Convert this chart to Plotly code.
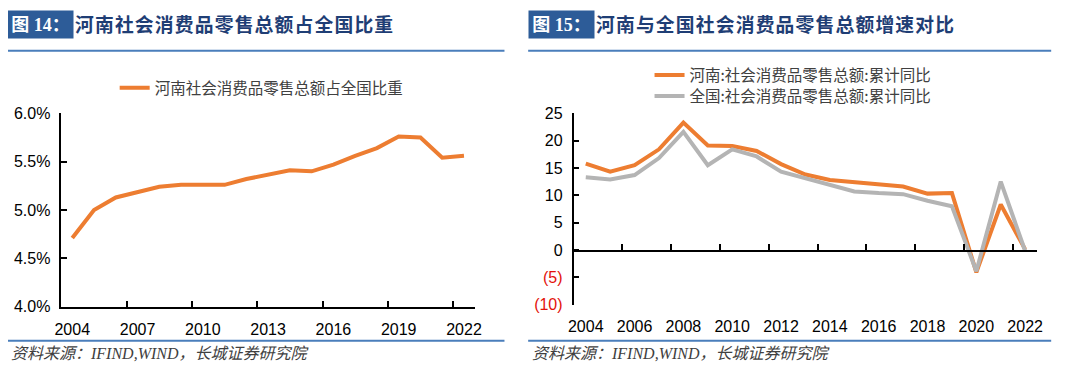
import plotly.graph_objects as go

# ---------------- data ----------------
years = list(range(2004, 2023))
henan_share = [4.71, 5.00, 5.13, 5.18, 5.24, 5.26, 5.265, 5.26, 5.32, 5.36,
               5.41, 5.40, 5.47, 5.56, 5.64, 5.76, 5.75, 5.54, 5.56]
henan_growth = [15.8, 14.3, 15.5, 18.4, 23.3, 19.1, 19.0, 18.1, 15.7, 13.8,
                12.8, 12.4, 11.9, 11.6, 10.3, 10.4, -4.1, 8.3, 0.1]
national_growth = [13.3, 12.9, 13.7, 16.8, 21.6, 15.5, 18.4, 17.1, 14.3, 13.1,
                   12.0, 10.7, 10.4, 10.2, 9.0, 8.0, -3.9, 12.5, -0.2]

left_ticks = years[::3]
right_ticks = years[::2]
left_yticks = [4.0, 4.5, 5.0, 5.5, 6.0]
right_yticks = [-10, -5, 0, 5, 10, 15, 20, 25]

name_share = "河南社会消费品零售总额占全国比重"
name_henan = "河南:社会消费品零售总额:累计同比"
name_nat = "全国:社会消费品零售总额:累计同比"
title_left = "河南社会消费品零售总额占全国比重"
title_right = "河南与全国社会消费品零售总额增速对比"
source = "资料来源：IFIND,WIND，长城证券研究院"

ORANGE = "#ED7D31"
GRAY = "#B4B4B4"
OFF = 8
W, H = 1080 - 2 * OFF, 381 - 2 * OFF

def px_x(p):
    return (p - OFF) / W

def px_y(p):
    return 1 - (p - OFF) / H

L_dom_x = [px_x(55), px_x(474)]
L_dom_y = [px_y(313), px_y(110)]
R_dom_x = [px_x(574), px_x(1044)]
R_dom_y = [px_y(310.7), px_y(110)]
yr2 = [-10, 25]
zero_pos = R_dom_y[0] + (0 - yr2[0]) / (yr2[1] - yr2[0]) * (R_dom_y[1] - R_dom_y[0])

xrange_ = [years[0] - 0.5, years[-1] + 0.5]

fig = go.Figure()
fig.add_trace(go.Scatter(x=years, y=henan_share, mode="lines", name=name_share,
                         line=dict(color=ORANGE, width=4), xaxis="x", yaxis="y",
                         legend="legend"))
fig.add_trace(go.Scatter(x=years, y=henan_growth, mode="lines", name=name_henan,
                         line=dict(color=ORANGE, width=4), xaxis="x2", yaxis="y2",
                         legend="legend2"))
fig.add_trace(go.Scatter(x=years, y=national_growth, mode="lines", name=name_nat,
                         line=dict(color=GRAY, width=4), xaxis="x2", yaxis="y2",
                         legend="legend3"))
# empty helper trace: subplot whose bottom edge sits at y = 0 of the right chart
fig.add_trace(go.Scatter(x=[], y=[], xaxis="x3", yaxis="y3", showlegend=False,
                         hoverinfo="skip"))

tickfont = dict(family="Liberation Sans, Arial, sans-serif", size=16, color="#000000")
legfont = dict(family="Noto Sans CJK SC", size=15.5, color="#404040")

fig.update_layout(
    width=W, height=H,
    margin=dict(l=0, r=0, t=0, b=0),
    paper_bgcolor="white", plot_bgcolor="rgba(0,0,0,0)",
    showlegend=True,
    xaxis=dict(domain=L_dom_x, anchor="y", range=xrange_, tickmode="array",
               tickvals=left_ticks, ticktext=[str(v) for v in left_ticks], ticks="",
               showline=True, linecolor="black", linewidth=1.5, showgrid=False,
               zeroline=False, tickfont=tickfont, ticklabelstandoff=7,
               minor=dict(tickmode="array",
                          tickvals=[v - 0.5 for v in left_ticks[1:]],
                          ticks="inside", ticklen=6, tickwidth=1.5, tickcolor="black",
                          showgrid=False)),
    yaxis=dict(domain=L_dom_y, anchor="x", range=[4.0, 6.0], tickmode="array",
               tickvals=left_yticks, ticktext=[f"{v:.1f}%" for v in left_yticks],
               ticks="inside", ticklen=6, tickwidth=1.5, tickcolor="black",
               showline=True, linecolor="black", linewidth=1.5, showgrid=False,
               zeroline=False, tickfont=tickfont, ticklabelstandoff=6),
    xaxis2=dict(domain=R_dom_x, anchor="y2", range=xrange_, tickmode="array",
                tickvals=right_ticks, ticktext=[str(v) for v in right_ticks], ticks="",
                showline=False, showgrid=False, zeroline=False, tickfont=tickfont,
                ticklabelstandoff=10),
    yaxis2=dict(domain=R_dom_y, anchor="x2", range=yr2, tickmode="array",
                tickvals=right_yticks,
                ticktext=[(f'<span style="color:#E3120B">({-v})</span>' if v < 0 else str(v))
                          for v in right_yticks],
                ticks="inside", ticklen=6, tickwidth=1.5, tickcolor="black",
                showline=True, linecolor="black", linewidth=1.5, showgrid=False,
                zeroline=False, tickfont=tickfont, ticklabelstandoff=6),
    xaxis3=dict(domain=R_dom_x, anchor="y3", range=xrange_, tickmode="array",
                tickvals=[v - 0.5 for v in right_ticks[1:]], showticklabels=False,
                ticks="inside", ticklen=6, tickwidth=1.5, tickcolor="black",
                showline=True, linecolor="black", linewidth=1.5, showgrid=False,
                zeroline=False),
    yaxis3=dict(domain=[zero_pos, R_dom_y[1]], anchor="x3", range=[0, 1], visible=False,
                showgrid=False, zeroline=False),
    legend=dict(x=px_x(109), y=px_y(66), xanchor="left", yanchor="top",
                bgcolor="rgba(0,0,0,0)", itemwidth=30, font=legfont),
    legend2=dict(x=px_x(651), y=px_y(52.5), xanchor="left", yanchor="top",
                 bgcolor="rgba(0,0,0,0)", itemwidth=30, font=legfont),
    legend3=dict(x=px_x(651), y=px_y(74.5), xanchor="left", yanchor="top",
                 bgcolor="rgba(0,0,0,0)", itemwidth=30, font=legfont),
)

BOX = "#2D5C98"
NAVY = "#1F3E75"
LINEC = "#4A7EBB"
spaced = lambda s: "\u200a".join(s)

ann = []
for x0, label, title in [(0, "图 14：", title_left), (528, "图 15：", title_right)]:
    ann.append(dict(x=px_x(x0), y=px_y(2), xref="paper", yref="paper", xanchor="left",
                    yanchor="top", text=f"<b>{label}</b>", showarrow=False,
                    bgcolor=BOX, width=61, height=23, borderpad=2, align="center",
                    font=dict(family="Liberation Serif, Noto Sans CJK SC", size=18,
                              color="white")))
    ann.append(dict(x=px_x(x0 + 67), y=px_y(15.5), xref="paper", yref="paper",
                    xanchor="left", yanchor="middle", text=f"<b>{spaced(title)}</b>",
                    showarrow=False,
                    font=dict(family="Noto Sans CJK SC", size=18.8, color=NAVY)))
for x0 in [0, 528]:
    ann.append(dict(x=px_x(x0 + 2), y=px_y(361.5), xref="paper", yref="paper",
                    xanchor="left", yanchor="middle", text=f"<i>{source}</i>",
                    showarrow=False,
                    font=dict(family="Liberation Serif, Noto Sans CJK SC", size=16,
                              color="#404040")))
fig.update_layout(annotations=ann)

shapes = []
for (a, b) in [(0, 504), (528, 1058)]:
    for yy in [44.5, 348.5]:
        shapes.append(dict(type="line", xref="paper", yref="paper", x0=px_x(a), x1=px_x(b),
                           y0=px_y(yy), y1=px_y(yy), line=dict(color=LINEC, width=2)))
fig.update_layout(shapes=shapes)

fig.write_html("out.html", config={"displayModeBar": False})
